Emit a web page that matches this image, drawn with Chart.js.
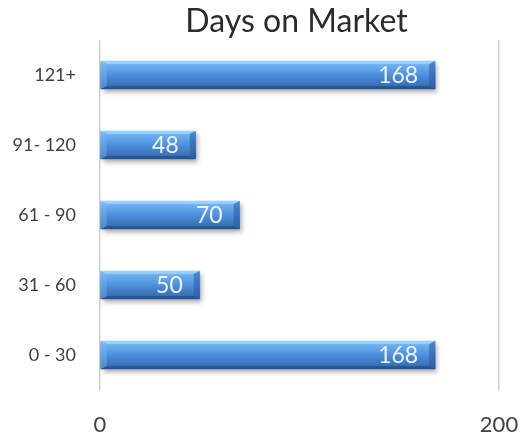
<!DOCTYPE html>
<html><head><meta charset="utf-8">
<script src="https://cdn.jsdelivr.net/npm/chart.js@4/dist/chart.umd.min.js"></script>
<style>html,body{margin:0;padding:0;background:#fff}#wrap{width:527px;height:438px}</style>
</head><body><div id="wrap"><canvas id="c" width="527" height="438"></canvas></div>
<script>
const categories = ["121+", "91- 120", "61 - 90", "31 - 60", "0 - 30"];
const values = [168, 48, 70, 50, 168];
const xTicks = [0, 200];
const titleText = "Days on Market";
const FONT = "Lato, 'Open Sans', sans-serif";

function barGradient(ctx) {
  const chart = ctx.chart;
  const y = chart.scales.y;
  if (!y || !chart.chartArea) return '#4a8fd8';
  const c = y.getPixelForValue(ctx.dataIndex);
  const h = 28;
  const g = chart.ctx.createLinearGradient(0, c - h / 2, 0, c + h / 2);
  g.addColorStop(0, '#8fcaf7');
  g.addColorStop(0.15, '#6cb0ef');
  g.addColorStop(0.5, '#4d90dc');
  g.addColorStop(1, '#3266a8');
  return g;
}

const bevelPlugin = {
  id: 'bevel',
  beforeDatasetsDraw(chart) {
    const ctx = chart.ctx;
    const meta = chart.getDatasetMeta(0);
    ctx.save();
    meta.data.forEach(b => {
      const top = b.y - b.height / 2;
      ctx.shadowColor = 'rgba(0,0,0,0.35)';
      ctx.shadowBlur = 5;
      ctx.shadowOffsetX = 2;
      ctx.shadowOffsetY = 3;
      ctx.fillStyle = '#3a6fb0';
      ctx.fillRect(b.base, top, b.x - b.base, b.height);
    });
    ctx.restore();
  },
  afterDatasetsDraw(chart) {
    const ctx = chart.ctx;
    const meta = chart.getDatasetMeta(0);
    ctx.save();
    meta.data.forEach((b, i) => {
      const l = b.base, r = b.x, t = b.y - b.height / 2, bt = b.y + b.height / 2;
      const bv = 6;
      ctx.fillStyle = 'rgba(170,220,255,0.55)';
      ctx.beginPath();
      ctx.moveTo(l, t); ctx.lineTo(r, t); ctx.lineTo(r - bv, t + 3); ctx.lineTo(l + bv, t + 3); ctx.closePath(); ctx.fill();
      ctx.fillStyle = 'rgba(30,70,130,0.55)';
      ctx.beginPath();
      ctx.moveTo(l, bt); ctx.lineTo(r, bt); ctx.lineTo(r - bv, bt - 3); ctx.lineTo(l + bv, bt - 3); ctx.closePath(); ctx.fill();
      ctx.fillStyle = 'rgba(40,90,160,0.55)';
      ctx.beginPath();
      ctx.moveTo(r, t); ctx.lineTo(r, bt); ctx.lineTo(r - bv, bt - 3); ctx.lineTo(r - bv, t + 3); ctx.closePath(); ctx.fill();
      ctx.fillStyle = 'rgba(120,180,240,0.45)';
      ctx.beginPath();
      ctx.moveTo(l, t); ctx.lineTo(l, bt); ctx.lineTo(l + bv, bt - 3); ctx.lineTo(l + bv, t + 3); ctx.closePath(); ctx.fill();
      ctx.fillStyle = '#eef4fb';
      ctx.font = '23px ' + FONT;
      ctx.textAlign = 'right';
      ctx.textBaseline = 'middle';
      ctx.fillText(String(values[i]), r - 17, b.y + 1);
    });
    ctx.restore();
  }
};

const titlePlugin = {
  id: 'ttl',
  afterDraw(chart) {
    const ctx = chart.ctx;
    const a = chart.chartArea;
    ctx.save();
    ctx.fillStyle = '#2b2b2b';
    ctx.font = '32px ' + FONT;
    ctx.textAlign = 'center';
    ctx.textBaseline = 'middle';
    ctx.fillText(titleText, (a.left + a.right) / 2 - 3, 22);
    ctx.restore();
  }
};

new Chart(document.getElementById('c'), {
  type: 'bar',
  data: {
    labels: categories,
    datasets: [{
      data: values,
      backgroundColor: barGradient,
      borderWidth: 0,
      barThickness: 28
    }]
  },
  options: {
    indexAxis: 'y',
    responsive: false,
    animation: false,
    layout: { padding: { top: 40, right: 28, left: 0, bottom: 0 } },
    plugins: { legend: { display: false }, tooltip: { enabled: false }, title: { display: false } },
    scales: {
      x: {
        min: 0, max: 200,
        afterBuildTicks(s) { s.ticks = xTicks.map(v => ({ value: v })); },
        afterFit(s) { s.height = 48; s.paddingLeft = 0; s.paddingRight = 0; },
        grid: { color: '#d0d0d0', lineWidth: 1.5, drawTicks: false },
        border: { display: false },
        ticks: { padding: 22, color: '#404040', font: { family: FONT, size: 22 } }
      },
      y: {
        afterFit(s) { s.width = 100; s.paddingTop = 0; s.paddingBottom = 0; },
        grid: { display: false },
        border: { display: false },
        ticks: { padding: 16, color: '#404040', font: { family: FONT, size: 18 } }
      }
    }
  },
  plugins: [bevelPlugin, titlePlugin]
});
</script></body></html>
